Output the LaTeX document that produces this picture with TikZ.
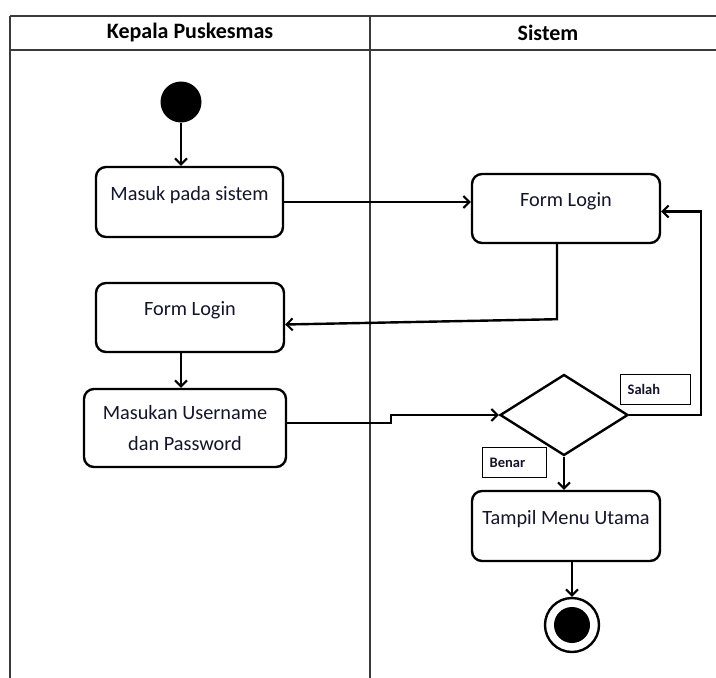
\documentclass[tikz,border=0pt]{standalone}
\usepackage{fontspec}
\setmainfont{Carlito}
\usepackage{xcolor}
\usetikzlibrary{arrows.meta, positioning, shapes.geometric, calc}
\definecolor{LaneGray}{HTML}{3A3A3A}
\definecolor{TextDark}{HTML}{14142A}

\begin{document}
\begin{tikzpicture}[
    x=1pt, y=-1pt,
    act/.style={
      draw, rounded corners=10pt, line width=2.4pt,
      minimum width=188pt, minimum height=70pt, align=center,
      inner sep=3pt, font=\fontsize{20.3}{31}\selectfont, text=TextDark
    },
    upper/.style={text depth=17pt},
    lane/.style={draw=LaneGray, line width=1.3pt},
    arr/.style={-{Straight Barb[length=6pt,width=12pt,line width=2pt]}, line width=2.4pt},
    guard/.style={draw, line width=1.3pt, anchor=north west, align=left,
      inner xsep=7pt, inner ysep=0pt, minimum height=30pt,
      font=\fontsize{14.5}{16}\selectfont\bfseries, text=TextDark},
    head/.style={font=\fontsize{22}{26}\selectfont\bfseries}
  ]
    \useasboundingbox (0,0) rectangle (716,678);

    % Swimlanes
    \draw[lane] (10,16) -- (716,16);
    \draw[lane] (10,50) -- (716,50);
    \draw[lane] (10,16) -- (10,678);
    \draw[lane] (370,16) -- (370,678);
    \node[head] (hKepala) at (190,33) {Kepala Puskesmas};
    \node[head] (hSistem) at (548,33) {Sistem};

    % Start
    \node[circle, fill, minimum size=41pt, inner sep=0pt] (start) at (181,102) {};

    % Kepala Puskesmas
    \node[act, upper, minimum width=187pt] (masuk) at (189.5,202) {Masuk pada sistem};
    \node[act, upper, minimum height=69pt] (formUser) at (190,317.5) {Form Login};
    \node[act, minimum width=202pt, minimum height=78pt] (masukan) at (185,428)
      {Masukan Username\\dan Password};

    % Sistem
    \node[act, upper, minimum height=69pt] (formSistem) at (566,208.5) {Form Login};
    \node[diamond, draw, line width=2.4pt, aspect=1.58, minimum width=128pt,
          minimum height=81pt, inner sep=0pt] (cek) at (564,415) {};
    \node[guard, text width=56pt, minimum width=70pt] (salah) at (620,374) {Salah};
    \node[guard, text width=50pt, minimum width=64pt] (benar) at (482,447) {Benar};
    \node[act, upper] (tampil) at (566,526) {Tampil Menu Utama};

    % End
    \node[circle, draw, line width=2.4pt, minimum size=54pt, inner sep=0pt] (endOuter) at (572,625) {};
    \node[circle, fill, minimum size=36pt, inner sep=0pt] (endInner) at (endOuter) {};

    % Arrows
    \draw[arr] (start) -- (start |- masuk.north);
    \draw[arr] (masuk.east) -- (masuk.east -| formSistem.west);
    \draw[arr] ([xshift=-9pt]formSistem.south) -- ++(0,75) -- ([yshift=-7pt]formUser.east);
    \draw[arr] (formUser.south -| start) -- (masukan.north -| start);
    \draw[arr] ([yshift=5pt]masukan.east) -- ++(104,0) |- (cek.west);
    \draw[arr] (cek.east) -- ++(72,0) |- ([yshift=-3pt]formSistem.east);
    \draw[arr] (cek.south) -- (cek.south |- tampil.north);
    \draw[arr] (tampil.south -| endOuter) -- (endOuter.north);
  \end{tikzpicture}
\end{document}
